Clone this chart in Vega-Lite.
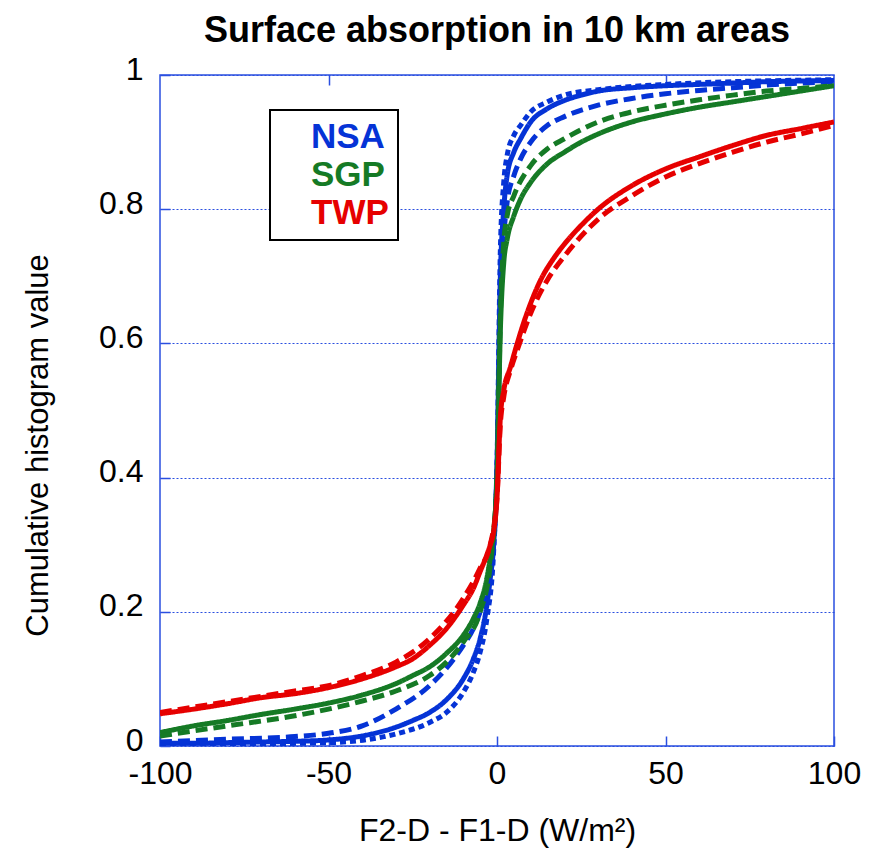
{
  "$schema": "https://vega.github.io/schema/vega-lite/v6.json",
  "autosize": {"type": "none"},
  "width": 674,
  "height": 671,
  "padding": {"left": 160, "top": 75, "right": 42, "bottom": 118},
  "background": "white",
  "config": {
    "font": "Liberation Sans",
    "view": {"stroke": "#2a4fe0", "strokeWidth": 1.5}
  },
  "title": {
    "text": "Surface absorption in 10 km areas",
    "fontSize": 36,
    "fontWeight": "bold",
    "font": "Liberation Sans",
    "color": "black",
    "anchor": "middle",
    "frame": "group",
    "offset": 3
  },
  "datasets": {
    "curves": [
      {"site":"NSA","run":"a","x":-100,"y":0.004},{"site":"NSA","run":"a","x":-90,"y":0.004},{"site":"NSA","run":"a","x":-80,"y":0.005},{"site":"NSA","run":"a","x":-70,"y":0.006},{"site":"NSA","run":"a","x":-60,"y":0.007},{"site":"NSA","run":"a","x":-50,"y":0.009},{"site":"NSA","run":"a","x":-40,"y":0.015},{"site":"NSA","run":"a","x":-30,"y":0.028},{"site":"NSA","run":"a","x":-25,"y":0.038},{"site":"NSA","run":"a","x":-20,"y":0.05},{"site":"NSA","run":"a","x":-15,"y":0.069},{"site":"NSA","run":"a","x":-10,"y":0.1},{"site":"NSA","run":"a","x":-7,"y":0.13},{"site":"NSA","run":"a","x":-5,"y":0.16},{"site":"NSA","run":"a","x":-3,"y":0.21},{"site":"NSA","run":"a","x":-2,"y":0.25},{"site":"NSA","run":"a","x":-1,"y":0.3},{"site":"NSA","run":"a","x":0,"y":0.42},{"site":"NSA","run":"a","x":1,"y":0.7},{"site":"NSA","run":"a","x":2,"y":0.8},{"site":"NSA","run":"a","x":3,"y":0.85},{"site":"NSA","run":"a","x":5,"y":0.885},{"site":"NSA","run":"a","x":7,"y":0.905},{"site":"NSA","run":"a","x":10,"y":0.93},{"site":"NSA","run":"a","x":15,"y":0.95},{"site":"NSA","run":"a","x":20,"y":0.962},{"site":"NSA","run":"a","x":25,"y":0.97},{"site":"NSA","run":"a","x":30,"y":0.976},{"site":"NSA","run":"a","x":40,"y":0.981},{"site":"NSA","run":"a","x":50,"y":0.984},{"site":"NSA","run":"a","x":60,"y":0.986},{"site":"NSA","run":"a","x":70,"y":0.988},{"site":"NSA","run":"a","x":80,"y":0.99},{"site":"NSA","run":"a","x":90,"y":0.991},{"site":"NSA","run":"a","x":100,"y":0.992},

      {"site":"NSA","run":"b","x":-100,"y":0.006},{"site":"NSA","run":"b","x":-80,"y":0.01},{"site":"NSA","run":"b","x":-60,"y":0.014},{"site":"NSA","run":"b","x":-50,"y":0.019},{"site":"NSA","run":"b","x":-40,"y":0.03},{"site":"NSA","run":"b","x":-30,"y":0.055},{"site":"NSA","run":"b","x":-20,"y":0.09},{"site":"NSA","run":"b","x":-15,"y":0.116},{"site":"NSA","run":"b","x":-10,"y":0.15},{"site":"NSA","run":"b","x":-7,"y":0.175},{"site":"NSA","run":"b","x":-5,"y":0.2},{"site":"NSA","run":"b","x":-3,"y":0.23},{"site":"NSA","run":"b","x":-1,"y":0.3},{"site":"NSA","run":"b","x":0,"y":0.4},{"site":"NSA","run":"b","x":1,"y":0.66},{"site":"NSA","run":"b","x":2,"y":0.76},{"site":"NSA","run":"b","x":3,"y":0.81},{"site":"NSA","run":"b","x":5,"y":0.85},{"site":"NSA","run":"b","x":7,"y":0.875},{"site":"NSA","run":"b","x":10,"y":0.9},{"site":"NSA","run":"b","x":15,"y":0.925},{"site":"NSA","run":"b","x":20,"y":0.938},{"site":"NSA","run":"b","x":30,"y":0.955},{"site":"NSA","run":"b","x":40,"y":0.965},{"site":"NSA","run":"b","x":50,"y":0.972},{"site":"NSA","run":"b","x":60,"y":0.977},{"site":"NSA","run":"b","x":70,"y":0.981},{"site":"NSA","run":"b","x":80,"y":0.985},{"site":"NSA","run":"b","x":90,"y":0.988},{"site":"NSA","run":"b","x":100,"y":0.99},

      {"site":"NSA","run":"c","x":-100,"y":0.002},{"site":"NSA","run":"c","x":-50,"y":0.005},{"site":"NSA","run":"c","x":-30,"y":0.018},{"site":"NSA","run":"c","x":-20,"y":0.035},{"site":"NSA","run":"c","x":-15,"y":0.05},{"site":"NSA","run":"c","x":-10,"y":0.08},{"site":"NSA","run":"c","x":-7,"y":0.11},{"site":"NSA","run":"c","x":-5,"y":0.14},{"site":"NSA","run":"c","x":-3,"y":0.19},{"site":"NSA","run":"c","x":-1,"y":0.29},{"site":"NSA","run":"c","x":0,"y":0.42},{"site":"NSA","run":"c","x":1,"y":0.74},{"site":"NSA","run":"c","x":2,"y":0.84},{"site":"NSA","run":"c","x":3,"y":0.88},{"site":"NSA","run":"c","x":5,"y":0.91},{"site":"NSA","run":"c","x":7,"y":0.925},{"site":"NSA","run":"c","x":10,"y":0.945},{"site":"NSA","run":"c","x":15,"y":0.96},{"site":"NSA","run":"c","x":20,"y":0.97},{"site":"NSA","run":"c","x":30,"y":0.978},{"site":"NSA","run":"c","x":40,"y":0.983},{"site":"NSA","run":"c","x":50,"y":0.986},{"site":"NSA","run":"c","x":100,"y":0.993},

      {"site":"SGP","run":"a","x":-100,"y":0.02},{"site":"SGP","run":"a","x":-90,"y":0.03},{"site":"SGP","run":"a","x":-80,"y":0.038},{"site":"SGP","run":"a","x":-70,"y":0.047},{"site":"SGP","run":"a","x":-60,"y":0.055},{"site":"SGP","run":"a","x":-50,"y":0.064},{"site":"SGP","run":"a","x":-40,"y":0.076},{"site":"SGP","run":"a","x":-30,"y":0.093},{"site":"SGP","run":"a","x":-25,"y":0.105},{"site":"SGP","run":"a","x":-20,"y":0.118},{"site":"SGP","run":"a","x":-15,"y":0.138},{"site":"SGP","run":"a","x":-10,"y":0.165},{"site":"SGP","run":"a","x":-7,"y":0.19},{"site":"SGP","run":"a","x":-5,"y":0.213},{"site":"SGP","run":"a","x":-3,"y":0.25},{"site":"SGP","run":"a","x":-2,"y":0.28},{"site":"SGP","run":"a","x":-1,"y":0.32},{"site":"SGP","run":"a","x":0,"y":0.4},{"site":"SGP","run":"a","x":1,"y":0.62},{"site":"SGP","run":"a","x":2,"y":0.72},{"site":"SGP","run":"a","x":3,"y":0.755},{"site":"SGP","run":"a","x":5,"y":0.79},{"site":"SGP","run":"a","x":7,"y":0.815},{"site":"SGP","run":"a","x":10,"y":0.84},{"site":"SGP","run":"a","x":15,"y":0.868},{"site":"SGP","run":"a","x":20,"y":0.885},{"site":"SGP","run":"a","x":25,"y":0.9},{"site":"SGP","run":"a","x":30,"y":0.912},{"site":"SGP","run":"a","x":40,"y":0.93},{"site":"SGP","run":"a","x":50,"y":0.942},{"site":"SGP","run":"a","x":60,"y":0.952},{"site":"SGP","run":"a","x":70,"y":0.96},{"site":"SGP","run":"a","x":80,"y":0.968},{"site":"SGP","run":"a","x":90,"y":0.976},{"site":"SGP","run":"a","x":100,"y":0.984},

      {"site":"SGP","run":"b","x":-100,"y":0.015},{"site":"SGP","run":"b","x":-80,"y":0.03},{"site":"SGP","run":"b","x":-60,"y":0.045},{"site":"SGP","run":"b","x":-50,"y":0.055},{"site":"SGP","run":"b","x":-40,"y":0.067},{"site":"SGP","run":"b","x":-30,"y":0.082},{"site":"SGP","run":"b","x":-20,"y":0.105},{"site":"SGP","run":"b","x":-15,"y":0.125},{"site":"SGP","run":"b","x":-10,"y":0.155},{"site":"SGP","run":"b","x":-5,"y":0.2},{"site":"SGP","run":"b","x":-2,"y":0.27},{"site":"SGP","run":"b","x":0,"y":0.4},{"site":"SGP","run":"b","x":1,"y":0.64},{"site":"SGP","run":"b","x":2,"y":0.75},{"site":"SGP","run":"b","x":3,"y":0.79},{"site":"SGP","run":"b","x":5,"y":0.82},{"site":"SGP","run":"b","x":10,"y":0.865},{"site":"SGP","run":"b","x":15,"y":0.89},{"site":"SGP","run":"b","x":20,"y":0.905},{"site":"SGP","run":"b","x":30,"y":0.93},{"site":"SGP","run":"b","x":40,"y":0.945},{"site":"SGP","run":"b","x":50,"y":0.955},{"site":"SGP","run":"b","x":60,"y":0.963},{"site":"SGP","run":"b","x":70,"y":0.97},{"site":"SGP","run":"b","x":80,"y":0.976},{"site":"SGP","run":"b","x":90,"y":0.98},{"site":"SGP","run":"b","x":100,"y":0.984},

      {"site":"TWP","run":"a","x":-100,"y":0.048},{"site":"TWP","run":"a","x":-90,"y":0.055},{"site":"TWP","run":"a","x":-80,"y":0.063},{"site":"TWP","run":"a","x":-70,"y":0.072},{"site":"TWP","run":"a","x":-60,"y":0.078},{"site":"TWP","run":"a","x":-50,"y":0.087},{"site":"TWP","run":"a","x":-40,"y":0.1},{"site":"TWP","run":"a","x":-30,"y":0.118},{"site":"TWP","run":"a","x":-25,"y":0.13},{"site":"TWP","run":"a","x":-20,"y":0.15},{"site":"TWP","run":"a","x":-15,"y":0.175},{"site":"TWP","run":"a","x":-10,"y":0.21},{"site":"TWP","run":"a","x":-7,"y":0.235},{"site":"TWP","run":"a","x":-5,"y":0.26},{"site":"TWP","run":"a","x":-3,"y":0.285},{"site":"TWP","run":"a","x":-2,"y":0.3},{"site":"TWP","run":"a","x":-1,"y":0.32},{"site":"TWP","run":"a","x":0,"y":0.37},{"site":"TWP","run":"a","x":1,"y":0.49},{"site":"TWP","run":"a","x":2,"y":0.53},{"site":"TWP","run":"a","x":4,"y":0.565},{"site":"TWP","run":"a","x":6,"y":0.6},{"site":"TWP","run":"a","x":8,"y":0.632},{"site":"TWP","run":"a","x":10,"y":0.66},{"site":"TWP","run":"a","x":13,"y":0.695},{"site":"TWP","run":"a","x":17,"y":0.728},{"site":"TWP","run":"a","x":20,"y":0.748},{"site":"TWP","run":"a","x":25,"y":0.776},{"site":"TWP","run":"a","x":30,"y":0.8},{"site":"TWP","run":"a","x":40,"y":0.835},{"site":"TWP","run":"a","x":50,"y":0.86},{"site":"TWP","run":"a","x":60,"y":0.878},{"site":"TWP","run":"a","x":70,"y":0.895},{"site":"TWP","run":"a","x":80,"y":0.91},{"site":"TWP","run":"a","x":90,"y":0.92},{"site":"TWP","run":"a","x":100,"y":0.93},

      {"site":"TWP","run":"b","x":-100,"y":0.05},{"site":"TWP","run":"b","x":-80,"y":0.066},{"site":"TWP","run":"b","x":-60,"y":0.082},{"site":"TWP","run":"b","x":-50,"y":0.09},{"site":"TWP","run":"b","x":-40,"y":0.105},{"site":"TWP","run":"b","x":-30,"y":0.125},{"site":"TWP","run":"b","x":-20,"y":0.16},{"site":"TWP","run":"b","x":-10,"y":0.22},{"site":"TWP","run":"b","x":-5,"y":0.265},{"site":"TWP","run":"b","x":-2,"y":0.3},{"site":"TWP","run":"b","x":0,"y":0.37},{"site":"TWP","run":"b","x":1,"y":0.48},{"site":"TWP","run":"b","x":2,"y":0.52},{"site":"TWP","run":"b","x":4,"y":0.56},{"site":"TWP","run":"b","x":6,"y":0.59},{"site":"TWP","run":"b","x":10,"y":0.645},{"site":"TWP","run":"b","x":15,"y":0.695},{"site":"TWP","run":"b","x":20,"y":0.73},{"site":"TWP","run":"b","x":30,"y":0.785},{"site":"TWP","run":"b","x":40,"y":0.82},{"site":"TWP","run":"b","x":50,"y":0.848},{"site":"TWP","run":"b","x":60,"y":0.868},{"site":"TWP","run":"b","x":70,"y":0.885},{"site":"TWP","run":"b","x":80,"y":0.9},{"site":"TWP","run":"b","x":90,"y":0.912},{"site":"TWP","run":"b","x":100,"y":0.925}
    ]
  },
  "layer": [
    {
      "data": {"name": "curves"},
      "mark": {"type": "line", "interpolate": "monotone", "clip": true},
      "encoding": {
        "x": {
          "field": "x", "type": "quantitative",
          "scale": {"domain": [-100, 100], "nice": false},
          "axis": {
            "orient": "bottom",
            "values": [-100, -50, 0, 50, 100],
            "labelExpr": "datum.value + ''",
            "labelFlush": false,
            "domain": false,
            "grid": false,
            "tickSize": -10,
            "tickColor": "#2a4fe0",
            "tickWidth": 1.5,
            "labelFontSize": 32,
            "labelColor": "black",
            "labelPadding": 22,
            "labelFont": "Liberation Sans",
            "title": "F2-D - F1-D (W/m²)",
            "titleFontSize": 32,
            "titleFontWeight": "normal",
            "titleColor": "black",
            "titleFont": "Liberation Sans",
            "titlePadding": 26
          }
        },
        "y": {
          "field": "y", "type": "quantitative",
          "scale": {"domain": [0, 1], "nice": false},
          "axis": {
            "values": [0, 0.2, 0.4, 0.6, 0.8, 1],
            "labelExpr": "datum.value == 1 ? '1' : datum.value == 0 ? '0' : format(datum.value, '.1f')",
            "labelFlush": false,
            "domain": false,
            "grid": true,
            "gridColor": "#2a4fe0",
            "gridDash": [2, 2],
            "gridWidth": 1.2,
            "tickSize": -10,
            "tickColor": "#2a4fe0",
            "tickWidth": 1.5,
            "labelFontSize": 32,
            "labelColor": "black",
            "labelPadding": 27,
            "labelOffset": -6,
            "labelFont": "Liberation Sans",
            "title": "Cumulative histogram value",
            "titleFontSize": 31,
            "titleFontWeight": "normal",
            "titleColor": "black",
            "titleFont": "Liberation Sans",
            "titlePadding": 44,
            "titleY": 370
          }
        },
        "color": {
          "field": "site", "type": "nominal",
          "scale": {"domain": ["NSA", "SGP", "TWP"], "range": ["#0533d6", "#157a25", "#e60000"]},
          "legend": {
            "orient": "none",
            "legendX": 110,
            "legendY": 35,
            "title": null,
            "padding": 9,
            "strokeColor": "black",
            "fillColor": "white",
            "symbolType": "circle",
            "symbolSize": 0,
            "symbolStrokeWidth": 0,
            "symbolOpacity": 0,
            "labelOffset": -3,
            "labelFontSize": 35,
            "labelFontWeight": "bold",
            "labelFont": "Liberation Sans",
            "rowPadding": 2,
            "encode": {
              "labels": {"update": {"fill": {"scale": "color", "field": "value"}}},
              "legend": {"update": {"strokeWidth": {"value": 2}}}
            }
          }
        },
        "strokeDash": {
          "field": "run", "type": "nominal",
          "scale": {"domain": ["a", "b", "c"], "range": [[1, 0], [12, 6], [6, 4]]},
          "legend": null
        },
        "strokeWidth": {
          "field": "run", "type": "nominal",
          "scale": {"domain": ["a", "b", "c"], "range": [5, 5, 1.5]},
          "legend": null
        }
      }
    },
    {
      "mark": {"type": "rule", "color": "black", "strokeWidth": 4},
      "encoding": {
        "x": {"datum": 0, "type": "quantitative",
          "axis": {
            "orient": "top",
            "values": [-50, 50],
            "labels": false,
            "domain": false,
            "grid": false,
            "tickSize": -10,
            "tickColor": "#2a4fe0",
            "tickWidth": 1.5,
            "title": null
          }
        }
      }
    }
  ]
}
